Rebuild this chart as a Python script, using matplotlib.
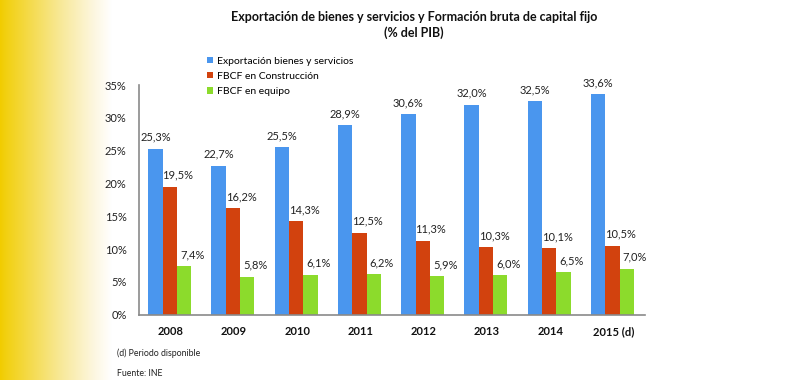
import numpy as np
import matplotlib
matplotlib.use("Agg")
import matplotlib.pyplot as plt
from matplotlib.colors import LinearSegmentedColormap

# ---- data ----
years = ["2008", "2009", "2010", "2011", "2012", "2013", "2014", "2015 (d)"]
exportacion = [25.3, 22.7, 25.5, 28.9, 30.6, 32.0, 32.5, 33.6]
construccion = [19.5, 16.2, 14.3, 12.5, 11.3, 10.3, 10.1, 10.5]
equipo = [7.4, 5.8, 6.1, 6.2, 5.9, 6.0, 6.5, 7.0]
series_names = ["Exportación bienes y servicios", "FBCF en Construcción", "FBCF en equipo"]
yticks = [0, 5, 10, 15, 20, 25, 30, 35]

colors = ["#4A96EE", "#D2420E", "#8CDB2C"]
FONT = ["Lato", "DejaVu Sans"]
plt.rcParams['font.family'] = FONT

fig = plt.figure(figsize=(8, 3.8), dpi=100)

# yellow gradient background on the left
bg = fig.add_axes([0, 0, 1, 1], zorder=-10)
bg.set_axis_off()
cmap = LinearSegmentedColormap.from_list("yl", [(0, "#F1CC00"), (0.05, "#F2D010"), (0.55, "#F8E99A"), (0.85, "#FDF7E2"), (1.0, "#FFFFFF")])
grad = np.linspace(0, 1, 256)[None, :]
bg.imshow(grad, aspect="auto", cmap=cmap, extent=[0, 112, 0, 380])
bg.set_xlim(0, 800)
bg.set_ylim(0, 380)

ax = fig.add_axes([139 / 800, 1 - 314.7 / 380, (645 - 139) / 800, (314.7 - 85) / 380])
x = np.arange(len(years))
w = 0.226
data = [exportacion, construccion, equipo]
offsets = [-w, 0, w]
label_shift = [0.0, 0.13, 0.13]
for vals, off, c, name, ls in zip(data, offsets, colors, series_names, label_shift):
    ax.bar(x + off - 0.015, vals, width=w, color=c, label=name, zorder=2)
    for xi, v in zip(x + off - 0.015, vals):
        ax.text(xi + ls, v + 0.9, f"{v:.1f}%".replace(".", ","), ha="center", va="bottom",
                fontsize=8, color="#222222")

ax.set_xlim(-0.5, len(years) - 0.5)
ax.set_ylim(0, 35)
ax.set_yticks(yticks)
ax.set_yticklabels([f"{t}%" for t in yticks], fontsize=8, color="#222222")
ax.set_xticks(x)
ax.set_xticklabels(years, fontsize=8, color="#111111", fontweight="bold")
ax.tick_params(axis="y", length=0, pad=9)
ax.tick_params(axis="x", length=0, pad=8)
for s in ["top", "right"]:
    ax.spines[s].set_visible(False)
for s in ["left", "bottom"]:
    ax.spines[s].set_color("#8a8a8a")
    ax.spines[s].set_linewidth(1.2)
ax.patch.set_alpha(0)

fig.text(414 / 800, 1 - 17 / 380, "Exportación de bienes y servicios y Formación bruta de capital fijo",
         ha="center", va="center", fontsize=9, fontweight="bold", color="#111111")
fig.text(414 / 800, 1 - 33 / 380, "(% del PIB)", ha="center", va="center",
         fontsize=9, fontweight="bold", color="#111111")

leg = fig.legend(loc="upper left", bbox_to_anchor=(207 / 800, 1 - 56.5 / 380), frameon=False,
                 fontsize=7.5, handlelength=0.6, handleheight=0.6, handletextpad=0.35,
                 labelspacing=0.6, borderaxespad=0, borderpad=0)

fig.text(117 / 800, 1 - 353 / 380, "(d) Periodo disponible", ha="left", va="center", fontsize=6.3, color="#222222")
fig.text(117 / 800, 1 - 374 / 380, "Fuente: INE", ha="left", va="center", fontsize=6.3, color="#222222")

fig.savefig("out.png", dpi=100)
